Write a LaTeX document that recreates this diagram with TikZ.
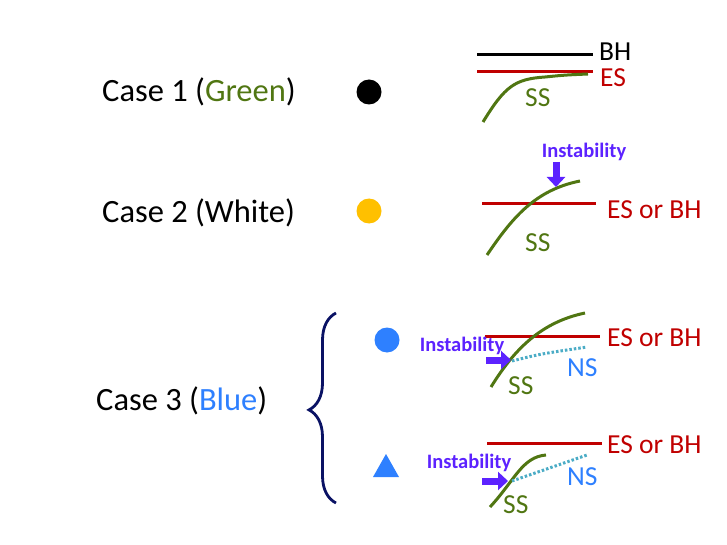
\documentclass[tikz,border=0pt]{standalone}
\usepackage{fontspec}
\setmainfont{Carlito}
\usetikzlibrary{arrows.meta,decorations.pathreplacing}

\definecolor{ssgreen}{RGB}{80,118,18}
\definecolor{esred}{RGB}{192,0,0}
\definecolor{nsblue}{RGB}{46,128,255}
\definecolor{nsteal}{RGB}{75,172,198}
\definecolor{instab}{RGB}{92,34,255}
\definecolor{dotorange}{RGB}{255,192,0}
\definecolor{bracenavy}{RGB}{10,18,100}

\begin{document}
\begin{tikzpicture}[x=1pt, y=-1pt]
    % Kiểu vẽ chung
    \tikzset{
        c_case/.style={anchor=west, inner sep=0pt, font=\fontsize{32.5}{38}\selectfont},
        c_lbl/.style={anchor=west, inner sep=0pt, font=\fontsize{27.5}{32}\selectfont},
        c_instab/.style={inner sep=0pt, text=instab, font=\fontsize{20.5}{24}\selectfont\bfseries},
        c_es/.style={line width=3pt, color=esred},
        c_bh/.style={line width=3pt, color=black},
        c_ss/.style={line width=3pt, color=ssgreen},
        c_ns/.style={line width=3pt, color=nsteal, dash pattern=on 2.5pt off 2pt},
        c_arrow/.style={line width=7pt, color=instab, -{Triangle[width=18pt,length=10pt]}}
    }
    \useasboundingbox (0,0) rectangle (727,545);

    % Nhãn các trường hợp
    \node[c_case] (case1) at (102,92) {Case 1 (\textcolor{ssgreen}{Green})};
    \node[c_case] (case2) at (102,213) {Case 2 (White)};
    \node[c_case] (case3) at (96,401) {Case 3 (\textcolor{nsblue}{Blue})};

    % Ký hiệu chấm tròn và tam giác
    \fill[black] (369,92) circle (12.5);
    \fill[dotorange] (369,211) circle (12.5);
    \fill[nsblue] (387,340) circle (12.5);
    \fill[nsblue] (373,477) -- (386,454) -- (399,477) -- cycle;

    % Ngoặc nhọn
    \draw[bracenavy, line width=2.8pt, decorate,
          decoration={brace, amplitude=27pt, aspect=0.49}]
        (336,503) -- (336,313);

    % Trường hợp 1
    \draw[c_bh] (477,55) -- (593,55);
    \draw[c_es] (477,72) -- (593,72);
    \draw[c_ss] (483,122) .. controls (505,86) and (515,79) .. (545,77)
        .. controls (565,75) .. (588,74);
    \node[c_lbl] (bh1) at (599,52) {BH};
    \node[c_lbl, text=esred] (es1) at (600,78) {ES};
    \node[c_lbl, text=ssgreen] (ss1) at (525,98) {SS};

    % Trường hợp 2
    \draw[c_es] (482,204) -- (596,204);
    \draw[c_ss] (487,255) .. controls (512,218) and (535,190) .. (580,181);
    \node[c_instab] (ins2) at (584,152) {Instability};
    \coordinate (ar2a) at (556,162);
    \coordinate (ar2b) at (556,187);
    \draw[c_arrow] (ar2a) -- (ar2b);
    \node[c_lbl, text=esred] (es2) at (607,210) {ES or BH};
    \node[c_lbl, text=ssgreen] (ss2) at (525,243) {SS};

    % Trường hợp 3 (chấm tròn)
    \draw[c_es] (485,336) -- (600,336);
    \draw[c_ss] (491,387) .. controls (515,348) and (542,322) .. (585,313);
    \draw[c_ns] (512,361) .. controls (540,354) .. (587,347);
    \node[c_instab] (ins3) at (462,346) {Instability};
    \coordinate (ar3a) at (486,360);
    \coordinate (ar3b) at (511,360);
    \draw[c_arrow] (ar3a) -- (ar3b);
    \node[c_lbl, text=esred] (es3) at (607,338) {ES or BH};
    \node[c_lbl, text=nsblue] (ns3) at (567,368) {NS};
    \node[c_lbl, text=ssgreen] (ss3) at (508,386) {SS};

    % Trường hợp 3 (tam giác)
    \draw[c_es] (487,443) -- (602,443);
    \draw[c_ss] (490,507) .. controls (515,480) and (522,457) .. (546,455);
    \draw[c_ns] (512,481) -- (587,455);
    \node[c_instab] (ins4) at (469,463) {Instability};
    \coordinate (ar4a) at (482,481);
    \coordinate (ar4b) at (508,481);
    \draw[c_arrow] (ar4a) -- (ar4b);
    \node[c_lbl, text=esred] (es4) at (607,445) {ES or BH};
    \node[c_lbl, text=nsblue] (ns4) at (567,477) {NS};
    \node[c_lbl, text=ssgreen] (ss4) at (503,505) {SS};
\end{tikzpicture}
\end{document}
